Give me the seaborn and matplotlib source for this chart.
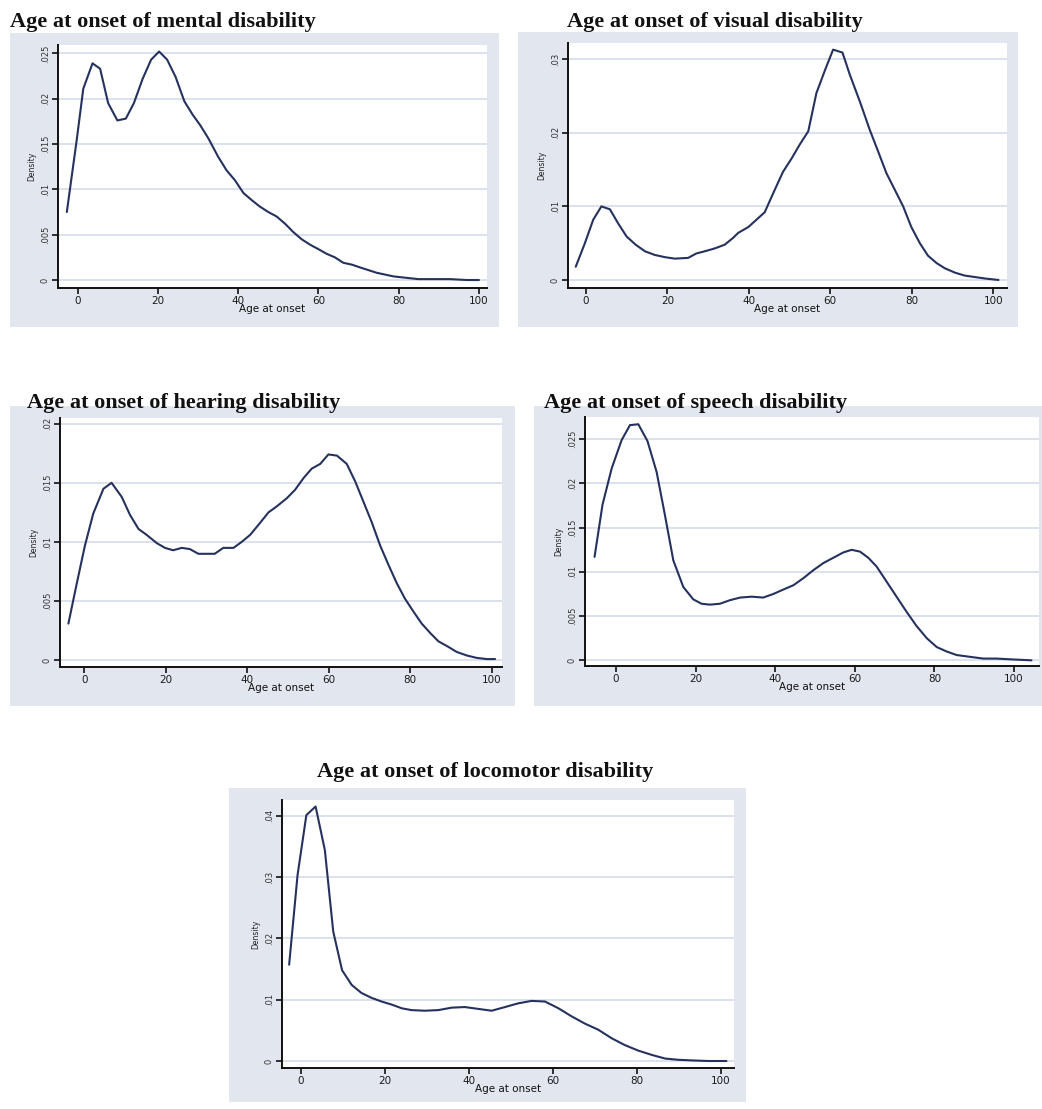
import numpy as np
import pandas as pd
import seaborn as sns
import matplotlib
matplotlib.use("Agg")
import matplotlib.pyplot as plt
from matplotlib.patches import Rectangle

# ---------------- data ----------------
mental_age = [-2.7, -0.25, 1.4, 3.7, 5.6, 7.6, 9.9, 12.0, 14.0, 16.2, 18.3, 20.3, 22.3, 24.4,
              26.6, 28.7, 30.5, 32.6, 35.0, 37.1, 39.2, 41.3, 43.4, 45.4, 47.5, 49.6, 51.7,
              53.7, 55.8, 57.9, 60.0, 62.0, 64.1, 66.2, 68.3, 70.3, 72.4, 74.5, 76.6, 78.7,
              80.7, 82.8, 84.9, 88.6, 92.8, 97.0, 100.0]
mental_density = [0.0075, 0.0154, 0.0211, 0.0239, 0.0233, 0.0195, 0.0176, 0.0178, 0.0195,
                  0.0222, 0.0243, 0.0252, 0.0243, 0.0224, 0.0197, 0.0182, 0.0171, 0.0156,
                  0.0136, 0.0121, 0.0110, 0.0096, 0.0088, 0.0081, 0.0075, 0.0070, 0.0062,
                  0.0053, 0.0045, 0.0039, 0.0034, 0.0029, 0.0025, 0.0019, 0.0017, 0.0014,
                  0.0011, 0.0008, 0.0006, 0.0004, 0.0003, 0.0002, 0.0001, 0.0001, 0.0001,
                  0.0000, 0.0000]

visual_age = [-2.5, -0.25, 1.8, 3.8, 5.9, 7.9, 10.0, 12.2, 14.5, 16.9, 19.4, 21.8, 25.1, 27.1,
              29.2, 31.7, 34.1, 36.1, 37.4, 39.9, 41.9, 43.9, 46.0, 48.4, 50.5, 52.5, 54.6,
              56.6, 58.7, 60.7, 63.0, 64.8, 67.3, 69.7, 71.8, 73.8, 75.9, 77.9, 79.9, 82.0,
              84.0, 86.1, 88.1, 90.6, 93.0, 95.5, 98.0, 101.3]
visual_density = [0.0018, 0.0050, 0.0082, 0.0100, 0.0096, 0.0077, 0.0059, 0.0048, 0.0039,
                  0.0034, 0.0031, 0.0029, 0.0030, 0.0036, 0.0039, 0.0043, 0.0048, 0.0057,
                  0.0064, 0.0072, 0.0082, 0.0092, 0.0118, 0.0147, 0.0165, 0.0184, 0.0202,
                  0.0254, 0.0285, 0.0313, 0.0309, 0.0279, 0.0242, 0.0204, 0.0174, 0.0145,
                  0.0122, 0.0100, 0.0072, 0.0050, 0.0033, 0.0023, 0.0016, 0.0010, 0.0006,
                  0.0004, 0.0002, 0.0000]

hearing_age = [-3.9, -1.9, 0.16, 2.2, 4.7, 6.7, 9.2, 11.2, 13.3, 15.3, 17.8, 19.8, 21.8, 23.9,
               25.9, 28.0, 30.0, 32.0, 34.1, 36.6, 38.6, 40.7, 43.1, 45.2, 47.2, 49.7, 51.7,
               53.8, 55.8, 57.9, 59.9, 62.0, 64.4, 66.5, 68.5, 70.5, 72.6, 74.6, 76.7, 78.7,
               80.8, 82.8, 84.9, 86.9, 89.0, 91.4, 93.9, 96.3, 98.8, 100.8]
hearing_density = [0.0031, 0.0064, 0.0097, 0.0124, 0.0145, 0.0150, 0.0138, 0.0123, 0.0111,
                   0.0106, 0.0099, 0.0095, 0.0093, 0.0095, 0.0094, 0.0090, 0.0090, 0.0090,
                   0.0095, 0.0095, 0.0100, 0.0106, 0.0116, 0.0125, 0.0130, 0.0137, 0.0144,
                   0.0154, 0.0162, 0.0166, 0.0174, 0.0173, 0.0166, 0.0151, 0.0134, 0.0117,
                   0.0097, 0.0081, 0.0065, 0.0052, 0.0041, 0.0031, 0.0023, 0.0016, 0.0012,
                   0.0007, 0.0004, 0.0002, 0.0001, 0.0001]

speech_age = [-5.4, -3.4, -1.1, 1.4, 3.5, 5.6, 7.9, 10.2, 12.3, 14.4, 16.9, 19.4, 21.5, 23.6,
              26.1, 28.6, 31.2, 34.1, 37.0, 39.5, 42.0, 44.6, 47.1, 49.6, 52.1, 54.6, 57.1,
              59.2, 61.3, 63.4, 65.5, 68.0, 70.5, 73.0, 75.5, 78.1, 80.6, 83.1, 85.6, 88.9,
              92.3, 95.6, 99.8, 104.4]
speech_density = [0.0117, 0.0176, 0.0217, 0.0249, 0.0266, 0.0267, 0.0248, 0.0213, 0.0164,
                  0.0113, 0.0083, 0.0069, 0.0064, 0.0063, 0.0064, 0.0068, 0.0071, 0.0072,
                  0.0071, 0.0075, 0.0080, 0.0085, 0.0093, 0.0102, 0.0110, 0.0116, 0.0122,
                  0.0125, 0.0123, 0.0116, 0.0106, 0.0089, 0.0072, 0.0055, 0.0039, 0.0025,
                  0.0015, 0.0010, 0.0006, 0.0004, 0.0002, 0.0002, 0.0001, 0.0000]

locomotor_age = [-2.8, -0.8, 1.3, 3.5, 5.7, 7.7, 9.8, 12.1, 14.4, 16.8, 19.2, 21.6, 24.0, 26.3,
                 29.5, 32.7, 35.9, 39.0, 42.2, 45.4, 48.6, 51.7, 54.9, 58.1, 61.3, 64.4, 67.6,
                 70.8, 74.0, 77.1, 80.3, 83.5, 86.7, 89.8, 93.0, 97.0, 101.3]
locomotor_density = [0.0157, 0.0303, 0.0401, 0.0415, 0.0344, 0.0211, 0.0148, 0.0124, 0.0111,
                     0.0103, 0.0097, 0.0092, 0.0086, 0.0083, 0.0082, 0.0083, 0.0087, 0.0088,
                     0.0085, 0.0082, 0.0088, 0.0094, 0.0098, 0.0097, 0.0086, 0.0073, 0.0061,
                     0.0051, 0.0037, 0.0026, 0.0017, 0.0010, 0.0004, 0.0002, 0.0001, 0.0000,
                     0.0000]

x_ticks = [0, 20, 40, 60, 80, 100]
x_tick_labels = ["0", "20", "40", "60", "80", "100"]

mental_yticks = [0, 0.005, 0.01, 0.015, 0.02, 0.025]
mental_ylabels = ["0", ".005", ".01", ".015", ".02", ".025"]
visual_yticks = [0, 0.01, 0.02, 0.03]
visual_ylabels = ["0", ".01", ".02", ".03"]
hearing_yticks = [0, 0.005, 0.01, 0.015, 0.02]
hearing_ylabels = ["0", ".005", ".01", ".015", ".02"]
speech_yticks = [0, 0.005, 0.01, 0.015, 0.02, 0.025]
speech_ylabels = ["0", ".005", ".01", ".015", ".02", ".025"]
locomotor_yticks = [0, 0.01, 0.02, 0.03, 0.04]
locomotor_ylabels = ["0", ".01", ".02", ".03", ".04"]

titles = ["Age at onset of mental disability", "Age at onset of visual disability",
          "Age at onset of hearing disability", "Age at onset of speech disability",
          "Age at onset of locomotor disability"]

# ---------------- styling ----------------
sns.set_theme(style="white")
plt.rcParams["font.family"] = ["DejaVu Sans"]

W, H = 1042, 1109
BG = "#e2e6ef"
GRID = "#dce1ee"
LINE = "#25325e"

fig = plt.figure(figsize=(W / 100, H / 100), dpi=100)
fig.patch.set_facecolor("white")


def fx(px):
    return px / W


def fy(py):
    return 1 - py / H


def panel(title, tpos, tha, bg, box, xlim, ylim, ages, dens, yticks, ylabels):
    l, t, r, b = bg
    fig.add_artist(Rectangle((fx(l), fy(b)), (r - l) / W, (b - t) / H,
                             transform=fig.transFigure, facecolor=BG,
                             edgecolor="none", zorder=-5))
    l, t, r, b = box
    ax = fig.add_axes([fx(l), fy(b), (r - l) / W, (b - t) / H])
    ax.set_facecolor("white")
    df = pd.DataFrame({"age": ages, "density": dens})
    sns.lineplot(data=df, x="age", y="density", ax=ax, color=LINE,
                 linewidth=1.5, sort=False, estimator=None)
    ax.set_xlim(*xlim)
    ax.set_ylim(*ylim)
    ax.set_yticks(yticks, ylabels)
    ax.set_xticks(x_ticks, x_tick_labels)
    ax.yaxis.grid(True, color=GRID, linewidth=1.4)
    ax.xaxis.grid(False)
    ax.set_axisbelow(True)
    for s in ["top", "right"]:
        ax.spines[s].set_visible(False)
    for s in ["left", "bottom"]:
        ax.spines[s].set_color("#111111")
        ax.spines[s].set_linewidth(1.4)
    ax.tick_params(axis="x", direction="out", length=4, width=1.2, color="#111111",
                   labelsize=7.5, pad=1.5, labelcolor="#1a1a1a", bottom=True)
    ax.tick_params(axis="y", direction="out", length=4, width=1.2, color="#111111",
                   labelsize=6, pad=2, labelcolor="#333333", left=True,
                   labelrotation=90)
    for lab in ax.get_yticklabels():
        lab.set_verticalalignment("center")
    ax.set_xlabel("Age at onset", fontsize=7.5, labelpad=-1.5, color="#111111")
    ax.set_ylabel("Density", fontsize=5.5, labelpad=3, color="#222222")
    fig.text(fx(tpos[0]), fy(tpos[1]), title, ha=tha, va="baseline",
             fontsize=16, fontweight="bold", family=["Liberation Serif"],
             color="#111111")
    return ax


panel(titles[0], (10, 27), "left", (10, 33, 499, 327), (58, 45, 487, 288),
      (-4.9, 102.0), (-0.00088, 0.02592), mental_age, mental_density,
      mental_yticks, mental_ylabels)
panel(titles[1], (567, 27), "left", (518, 32, 1018, 327), (568, 43, 1007, 288),
      (-4.4, 103.4), (-0.00109, 0.0322), visual_age, visual_density,
      visual_yticks, visual_ylabels)
panel(titles[2], (27, 408), "left", (10, 406, 515, 706), (60, 418, 502, 667),
      (-5.96, 102.5), (-0.00057, 0.02048), hearing_age, hearing_density,
      hearing_yticks, hearing_ylabels)
panel(titles[3], (544, 408), "left", (534, 406, 1042, 706), (585, 417, 1039, 666),
      (-7.8, 106.3), (-0.00064, 0.02752), speech_age, speech_density,
      speech_yticks, speech_ylabels)
panel(titles[4], (485, 777), "center", (229, 788, 746, 1102), (282, 800, 734, 1068),
      (-4.5, 103.1), (-0.00114, 0.04256), locomotor_age, locomotor_density,
      locomotor_yticks, locomotor_ylabels)

fig.savefig("out.png", dpi=100, facecolor="white")
